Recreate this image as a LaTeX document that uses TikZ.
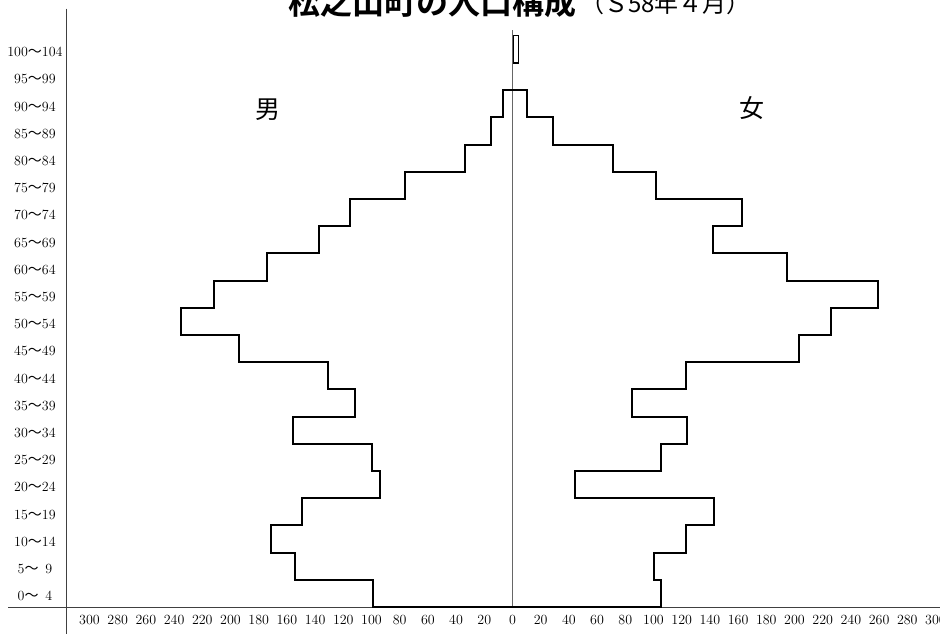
\documentclass[tikz,border=0pt]{standalone}
\usepackage{fontspec}
\usepackage{tikz}
\usetikzlibrary{positioning}
\newfontfamily\jpfont{Noto Sans CJK JP}
\newfontfamily\jpbold{Noto Sans CJK JP Bold}

\tikzset{
  bar/.style={line width=2pt, line join=miter},
  axisline/.style={line width=0.6pt, black!75},
  ticklab/.style={font=\fontsize{14}{14}\selectfont, inner sep=0pt},
  agelab/.style={font=\fontsize{14}{14}\selectfont, inner sep=0pt},
}

\begin{document}
\begin{tikzpicture}[x=1.41pt, y=27.2pt]
  \useasboundingbox (-363.5,-0.99) rectangle (303.2,22.32);

  % Draw the axes
  \draw[axisline] (-316.7,22.0) -- (-316.7,-0.99);
  \draw[axisline] (-357.8,0) -- (303.2,0);
  \draw[axisline, black!60] (0,21.2) -- (0,0);

  % Draw the male and female staircases
  \draw[bar] (0,0) foreach \v [count=\i from 0] in {99,154,171,149,94,100,156,112,131,194,235,212,174,137,115,76,34,15,7} { -- (-\v,\i) -- (-\v,\i+1) } -- (0,19);
  \draw[bar] (0,0) foreach \v [count=\i from 0] in {105,100,123,143,44,105,124,85,123,203,226,259,195,142,163,102,71,29,10} { -- (\v,\i) -- (\v,\i+1) } -- (0,19);
  \draw[line width=1.2pt] (0.8,20) rectangle (4,21);

  % Age groups and counts
  \foreach \a [count=\i from 0] in {0,5,...,100} {
    \pgfmathtruncatemacro\b{\a+4}
    \node[agelab] (age\a) at (-338.7,\i+0.4) {\a{\jpfont ～}\ifnum\b<10 \hphantom{0}\fi\b};
  }
  \foreach \v in {20,40,...,300} {
    \node[ticklab] (tl\v) at (-\v,-0.48) {\v};
    \node[ticklab] (tr\v) at (\v,-0.48) {\v};
  }
  \node[ticklab] (t0) at (0,-0.48) {0};

  % Title and labels
  \node[font={\fontsize{32}{34}\jpbold}, anchor=base] (title) at (-56.7,21.78) {松之山町の人口構成};
  \node[font={\fontsize{24}{25}\jpfont}, anchor=base west, inner sep=0pt] (date) at (47.9,21.86) {（Ｓ58年４月）};
  \node[font={\fontsize{25}{26}\jpfont}] (male) at (-173.4,18.27) {男};
  \node[font={\fontsize{25}{26}\jpfont}] (female) at (169.9,18.35) {女};
\end{tikzpicture}
\end{document}
